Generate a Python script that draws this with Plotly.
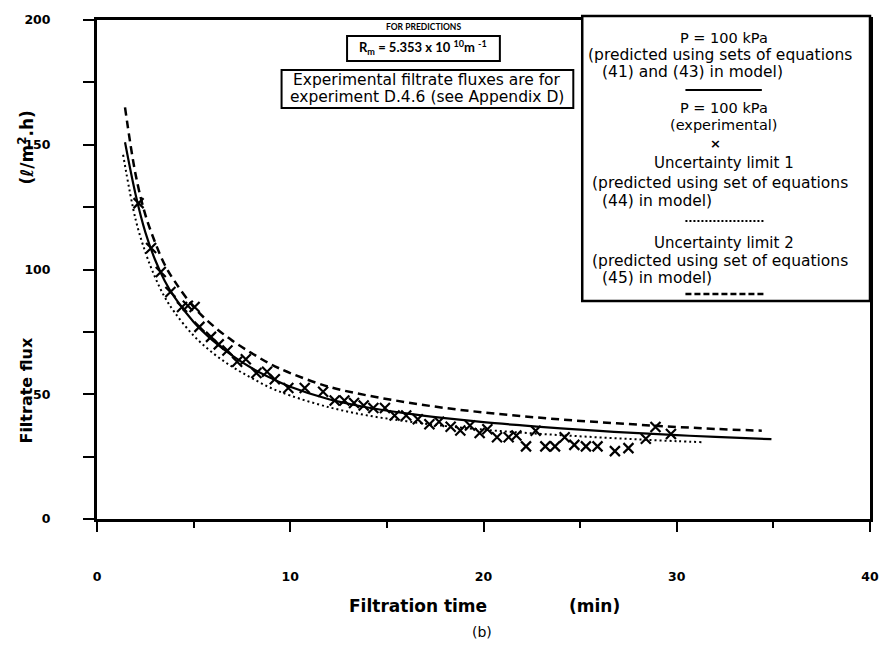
import plotly.graph_objects as go

# ---------------- data ----------------
t_pred = [1.45, 2, 2.5, 3, 3.5, 4, 5, 6, 7, 8, 9, 10, 12, 14, 16, 18, 20, 22, 24, 26, 28, 30, 32, 34.9]
f_pred = [151, 130, 115, 104, 95.5, 89, 79, 71.5, 65.5, 60.5, 56.5, 53, 48, 44.7, 42.3, 40.4, 38.8, 37.5, 36.3, 35.3, 34.4, 33.6, 32.9, 32]

t_lim1 = [1.35, 2, 2.5, 3, 3.5, 4, 5, 6, 7, 8, 9, 10, 12, 14, 16, 18, 20, 22, 24, 26, 28, 30, 31.3]
f_lim1 = [146, 120, 107, 97, 89, 83, 73.5, 66.5, 61, 56.5, 52.5, 49.5, 44.8, 41.5, 39.2, 37.3, 35.8, 34.6, 33.6, 32.7, 31.9, 31.2, 30.8]

t_lim2 = [1.45, 2, 2.5, 3, 3.5, 4, 5, 6, 7, 8, 9, 10, 12, 14, 16, 18, 20, 22, 24, 26, 28, 30, 32, 34.4]
f_lim2 = [165, 138, 122, 111, 102, 95.5, 85, 77.5, 71.5, 66.5, 62, 58.5, 53, 49.5, 46.8, 44.5, 42.7, 41.2, 39.9, 38.8, 37.8, 36.9, 36.1, 35.4]

t_exp = [2.15, 2.8, 3.3, 3.8, 4.4, 4.7, 5.05, 5.3, 5.9, 6.3, 6.75, 7.25, 7.7, 8.25, 8.8, 9.2, 9.9,
         10.75, 11.7, 12.3, 12.8, 13.3, 13.8, 14.3, 14.9, 15.4, 16.0, 16.6, 17.2, 17.7, 18.3, 18.8,
         19.3, 19.8, 20.2, 20.7, 21.3, 21.7, 22.2, 22.7, 23.2, 23.7, 24.2, 24.7, 25.3, 25.9, 26.8,
         27.5, 28.4, 28.9, 29.7]
f_exp = [126.6, 108.6, 99, 91, 85, 85.5, 85, 77, 73, 70, 67.5, 63, 64, 58.5, 59, 56, 52.5,
         52.5, 51, 47.5, 47.5, 46.5, 45.5, 44.5, 44.5, 41.5, 41.5, 40, 38, 39, 37, 35.5,
         37.5, 34.5, 36, 32.8, 32.8, 33.5, 29.1, 35.4, 29.1, 29.1, 32.8, 29.7, 29.1, 29.1, 27.2,
         28.4, 32.2, 36.9, 34.1]

x_ticks = [0, 10, 20, 30, 40]
y_ticks = [0, 50, 100, 150, 200]

# ---------------- layout geometry ----------------
W, H = 891, 650
L, R, T, B = 97, 876, 20, 519
FONT = "DejaVu Sans"


def pp(px, py):
    return (px - L) / (R - L), (B - py) / (B - T)


fig = go.Figure()
fig.add_trace(go.Scatter(x=t_lim1, y=f_lim1, mode="lines", line=dict(color="black", width=2, dash="2px,3px", shape="spline"), showlegend=False))
fig.add_trace(go.Scatter(x=t_lim2, y=f_lim2, mode="lines", line=dict(color="black", width=2.5, dash="8px,5px", shape="spline"), showlegend=False))
fig.add_trace(go.Scatter(x=t_pred, y=f_pred, mode="lines", line=dict(color="black", width=2.2, shape="spline"), showlegend=False))
fig.add_trace(go.Scatter(x=t_exp, y=f_exp, mode="markers",
                         marker=dict(symbol="x-thin", size=10, color="black", line=dict(color="black", width=2.2)),
                         showlegend=False))

axis_common = dict(showline=True, linewidth=3, linecolor="black", mirror=True, showgrid=False,
                   zeroline=False, ticks="outside", tickwidth=1.5, tickcolor="black",
                   tickfont=dict(family=FONT, size=12.5, color="black", weight="bold"))
fig.update_xaxes(range=[0, 40], tickvals=x_ticks, ticklen=10, ticklabelstandoff=34,
                 minor=dict(dtick=5, ticks="outside", ticklen=6, tickwidth=1.5, tickcolor="black"),
                 **axis_common)
fig.update_yaxes(range=[0, 200], tickvals=y_ticks, ticklen=11, ticklabelstandoff=30,
                 minor=dict(dtick=25, ticks="outside", ticklen=11, tickwidth=1.5, tickcolor="black"),
                 **axis_common)

ann = []


def text(px, py, s, size=12, bold=False, angle=0, xanchor="center", family=FONT):
    x, y = pp(px, py)
    ann.append(dict(x=x, y=y, xref="paper", yref="paper", text=s, showarrow=False,
                    xanchor=xanchor, yanchor="middle", textangle=angle,
                    font=dict(family=family, size=size, color="black", weight="bold" if bold else "normal")))


shapes = []


def rect(x0, y0, x1, y1, w=2):
    a0, b0 = pp(x0, y0)
    a1, b1 = pp(x1, y1)
    shapes.append(dict(type="rect", xref="paper", yref="paper", x0=a0, y0=b0, x1=a1, y1=b1,
                       line=dict(color="black", width=w), fillcolor="white", layer="above"))


def hline(x0, x1, y, dash="solid", w=2):
    a0, b = pp(x0, y)
    a1, _ = pp(x1, y)
    shapes.append(dict(type="line", xref="paper", yref="paper", x0=a0, y0=b, x1=a1, y1=b,
                       line=dict(color="black", width=w, dash=dash), layer="above"))


# axis titles
text(25, 390, "Filtrate flux", size=16, bold=True, angle=-90)
text(25, 148, "(ℓ/m<sup>2</sup>.h)", size=17, bold=True, angle=-90)
text(420, 606, "Filtration time", size=17, bold=True)
text(598, 606, "(min)", size=17, bold=True)
text(485, 632, "(b)", size=14)

# top annotations
text(426, 27, "FOR PREDICTIONS", size=8.5, bold=True, family="Lato")
rect(349, 36, 503, 61, w=2)
text(426, 48, "R<sub>m</sub> = 5.353 x 10 <sup>10</sup>m <sup>-1</sup>", size=13, bold=True, family="Lato")
rect(283, 70, 577, 108, w=2)
text(430, 80, "Experimental filtrate fluxes are for", size=15.5)
text(430, 97, "experiment D.4.6 (see Appendix D)", size=15.5)

# legend box
rect(586, 16, 876, 301, w=2.5)
text(729, 38, "P = 100 kPa", size=14.5)
text(725, 55, "(predicted using sets of equations", size=15.5)
text(604, 72, "(41) and (43) in model)", size=15.5, xanchor="left")
hline(690, 767, 90, "solid", 2.2)
text(729, 108, "P = 100 kPa", size=14.5)
text(729, 125, "(experimental)", size=14.5)
text(720, 143, "×", size=13, bold=True)
text(729, 163, "Uncertainty limit 1", size=15)
text(725, 183, "(predicted using set of equations", size=15.5)
text(604, 201, "(44) in model)", size=15.5, xanchor="left")
hline(690, 770, 221, "2px,2px", 2)
text(729, 243, "Uncertainty limit 2", size=15)
text(725, 261, "(predicted using set of equations", size=15.5)
text(604, 278, "(45) in model)", size=15.5, xanchor="left")
hline(690, 770, 294, "6px,3px", 2.5)

fig.update_layout(width=W, height=H, margin=dict(l=L, r=W - R, t=T, b=H - B),
                  paper_bgcolor="white", plot_bgcolor="white",
                  annotations=ann, shapes=shapes, showlegend=False)

fig.write_html("out.html")
